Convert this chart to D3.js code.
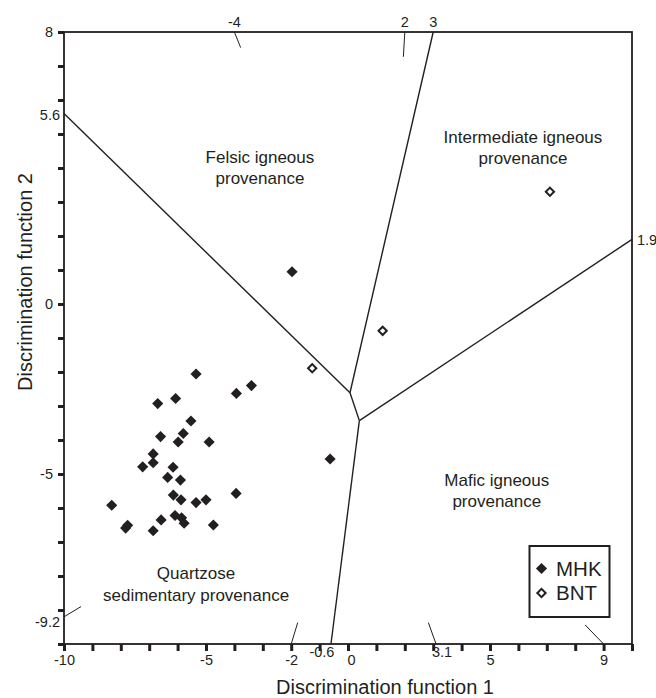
<!DOCTYPE html>
<html>
<head>
<meta charset="utf-8">
<script src="https://cdn.jsdelivr.net/npm/d3@7"></script>
<style>
  html, body { margin: 0; padding: 0; background: #fff; }
  svg { display: block; font-family: "Liberation Sans", Arial, Helvetica, sans-serif; }
</style>
</head>
<body>
<svg id="chart" width="656" height="698"></svg>
<script>
// Discriminant function scores (F1, F2) for the two sample groups
const mhkF1 = [-5.35, -3.40, -3.93, -6.07, -6.70, -5.53, -5.80, -6.60, -5.98, -4.89,
               -6.86, -6.86, -7.23, -6.16, -6.35, -5.90, -6.15, -5.88, -5.35, -5.00,
               -3.94, -8.32, -6.58, -6.09, -5.86, -5.77, -4.74, -7.83, -7.76, -6.86,
               -1.97, -0.63];
const mhkF2 = [-2.06, -2.40, -2.63, -2.78, -2.93, -3.44, -3.81, -3.90, -4.06, -4.06,
               -4.41, -4.67, -4.79, -4.80, -5.10, -5.18, -5.62, -5.76, -5.84, -5.76,
               -5.57, -5.92, -6.35, -6.22, -6.29, -6.45, -6.50, -6.59, -6.51, -6.67,
               0.95, -4.56];
const bntF1 = [1.22, -1.26, 7.11];
const bntF2 = [-0.79, -1.89, 3.30];

// Axis ticks and labelled values
const xTicks = d3.range(-10, 11);
const yTicks = d3.range(-10, 9);
const xLabelled = [-10, -5, -2, 0, 5, 9];
const yLabelled = [8, 0, -5];

// Provenance field boundaries (Roser & Korsch type diagram)
const node1 = [0.07, -2.61];
const node2 = [0.40, -3.43];
const boundaries = [
  [[-10, 5.6], node1],
  [node1, [3, 8]],
  [node1, node2],
  [node2, [10, 1.9]],
  [node2, [-0.6, -10]]
];
// Short guide marks where other boundary versions meet the frame
const guideMarks = [
  [[-4, 8], [-3.78, 7.54]],
  [[2, 8], [1.95, 7.27]],
  [[-2, -10], [-1.77, -9.37]],
  [[3.1, -10], [2.83, -9.37]],
  [[9, -10], [8.35, -9.44]],
  [[-10, -9.2], [-9.40, -8.90]]
];
// Values written where the boundaries meet the frame
const edgeLabels = [
  {t: "-4", x: -4, y: 8, side: "top"},
  {t: "2", x: 2, y: 8, side: "top"},
  {t: "3", x: 3, y: 8, side: "top"},
  {t: "1.9", x: 10, y: 1.9, side: "right"},
  {t: "5.6", x: -10, y: 5.6, side: "left"},
  {t: "-9.2", x: -10, y: -9.2, side: "left"},
  {t: "-0.6", x: -0.6, y: -10, side: "bottomUp"},
  {t: "3.1", x: 3.1, y: -10, side: "bottomUp"}
];
// Field names
const fieldLabels = [
  {lines: ["Felsic igneous", "provenance"], x: -3.10, y: 4.15},
  {lines: ["Intermediate igneous", "provenance"], x: 6.16, y: 4.74},
  {lines: ["Mafic igneous", "provenance"], x: 5.24, y: -5.35},
  {lines: ["Quartzose", "sedimentary provenance"], x: -5.35, y: -8.09}
];

const ink = "#231f20";
const svg = d3.select("#chart");

const x = d3.scaleLinear().domain([-10, 10]).range([64, 632]);
const y = d3.scaleLinear().domain([-10, 8]).range([644, 32]);

// Boundaries
svg.append("g").selectAll("line").data(boundaries).join("line")
  .attr("x1", d => x(d[0][0])).attr("y1", d => y(d[0][1]))
  .attr("x2", d => x(d[1][0])).attr("y2", d => y(d[1][1]))
  .attr("stroke", ink).attr("stroke-width", 1.4);

svg.append("g").selectAll("line").data(guideMarks).join("line")
  .attr("x1", d => x(d[0][0])).attr("y1", d => y(d[0][1]))
  .attr("x2", d => x(d[1][0])).attr("y2", d => y(d[1][1]))
  .attr("stroke", ink).attr("stroke-width", 1);

// Frame
svg.append("rect")
  .attr("x", x(-10)).attr("y", y(8))
  .attr("width", x(10) - x(-10)).attr("height", y(-10) - y(8))
  .attr("fill", "none").attr("stroke", ink).attr("stroke-width", 1.8);

// Axes
const xAxis = svg.append("g").attr("transform", `translate(0,${y(-10)})`)
  .call(d3.axisBottom(x).tickValues(xTicks).tickSize(7).tickPadding(4)
    .tickFormat(d => xLabelled.includes(d) ? d3.format("")(d).replace("−", "-") : ""));
const yAxis = svg.append("g").attr("transform", `translate(${x(-10)},0)`)
  .call(d3.axisLeft(y).tickValues(yTicks).tickSize(6).tickPadding(5)
    .tickFormat(d => yLabelled.includes(d) ? d3.format("")(d).replace("−", "-") : ""));

[xAxis, yAxis].forEach(a => {
  a.select(".domain").remove();
  a.selectAll(".tick line").attr("stroke", ink).attr("stroke-width", 3);
  a.selectAll(".tick text").attr("fill", ink)
    .style("font-size", "14.5px").style("font-family", "'Liberation Sans', Arial, sans-serif");
});
xAxis.selectAll(".tick text").filter(d => d === 0).attr("dx", 3);

// Edge values
svg.append("g").selectAll("text").data(edgeLabels).join("text")
  .attr("x", d => x(d.x) + (d.side === "right" ? 5 : d.side === "left" ? -4 :
                             d.t === "-0.6" ? -9 : d.t === "3.1" ? 6 : 0))
  .attr("y", d => y(d.y) + (d.side === "top" ? -5 : d.side === "right" ? 6 :
                             d.side === "left" ? (d.t === "-9.2" ? 10 : 6) : 13))
  .attr("text-anchor", d => d.side === "right" ? "start" : d.side === "left" ? "end" : "middle")
  .attr("fill", ink).style("font-size", "14.5px")
  .text(d => d.t);

// Field names
const fl = svg.append("g").selectAll("text").data(fieldLabels).join("text")
  .attr("text-anchor", "middle").attr("fill", ink).style("font-size", "17px")
  .attr("x", d => x(d.x)).attr("y", d => y(d.y));
fl.selectAll("tspan").data(d => d.lines.map(l => ({l, x: d.x}))).join("tspan")
  .attr("x", d => x(d.x)).attr("dy", (d, i) => i === 0 ? 0 : 21.5)
  .text(d => d.l);

// Markers: diamonds drawn as squares turned 45 degrees
const filledDiamond = d3.symbol(d3.symbolSquare, 62);
const openDiamond = d3.symbol(d3.symbolSquare, 34);

svg.append("g").selectAll("path").data(d3.range(mhkF1.length)).join("path")
  .attr("d", filledDiamond)
  .attr("transform", i => `translate(${x(mhkF1[i])},${y(mhkF2[i])}) rotate(45)`)
  .attr("fill", ink);

svg.append("g").selectAll("path").data(d3.range(bntF1.length)).join("path")
  .attr("d", openDiamond)
  .attr("transform", i => `translate(${x(bntF1[i])},${y(bntF2[i])}) rotate(45)`)
  .attr("fill", "#fff").attr("stroke", ink).attr("stroke-width", 2);

// Axis titles
svg.append("text").attr("x", 385).attr("y", 694).attr("text-anchor", "middle")
  .attr("fill", ink).style("font-size", "20px").text("Discrimination function 1");
svg.append("text").attr("transform", "translate(32,282) rotate(-90)").attr("text-anchor", "middle")
  .attr("fill", ink).style("font-size", "20px").text("Discrimination function 2");

// Legend
const legend = svg.append("g").attr("transform", "translate(529.5,546)");
legend.append("rect").attr("width", 80).attr("height", 71)
  .attr("fill", "#fff").attr("stroke", ink).attr("stroke-width", 2);
const series = [
  {name: "MHK", sym: filledDiamond, fill: ink, stroke: "none"},
  {name: "BNT", sym: openDiamond, fill: "#fff", stroke: ink}
];
const li = legend.selectAll("g.item").data(series).join("g").attr("class", "item")
  .attr("transform", (d, i) => `translate(12,${22.5 + i * 24.5})`);
li.append("path").attr("d", d => d.sym())
  .attr("transform", "rotate(45)")
  .attr("fill", d => d.fill).attr("stroke", d => d.stroke).attr("stroke-width", 2);
li.append("text").attr("x", 14.5).attr("y", 7).attr("fill", ink)
  .style("font-size", "20.5px").text(d => d.name);
</script>
</body>
</html>
